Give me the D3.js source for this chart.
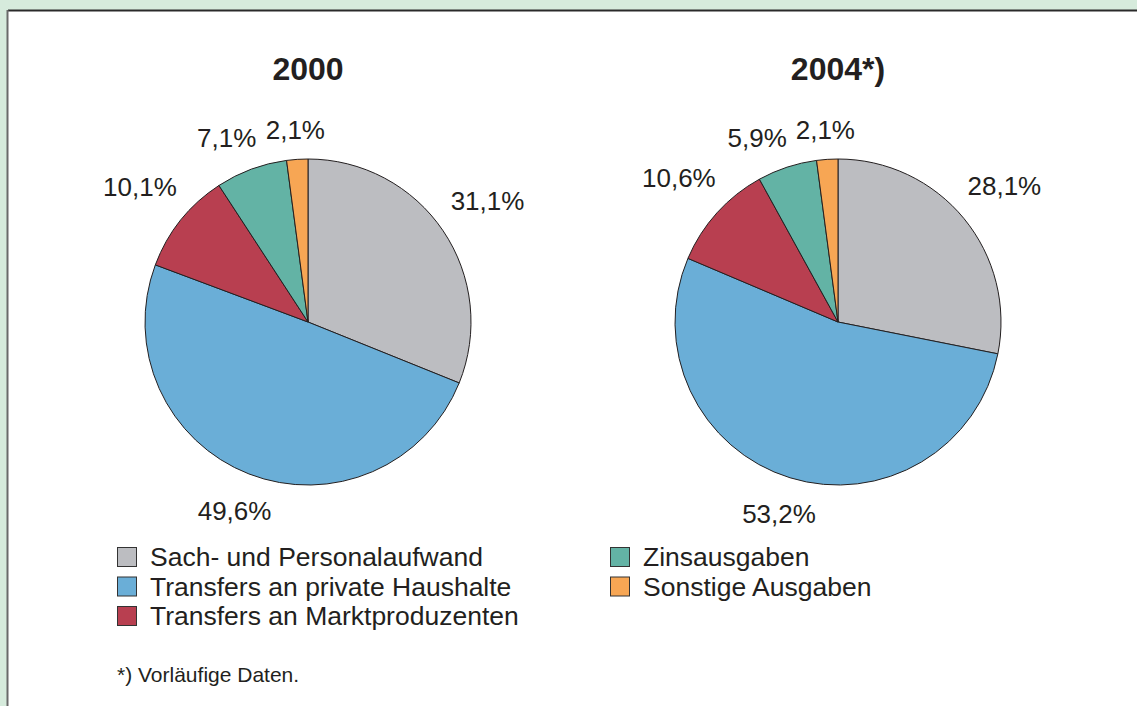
<!DOCTYPE html>
<html>
<head>
<meta charset="utf-8">
<script src="https://cdn.jsdelivr.net/npm/d3@7"></script>
<style>
  body { margin: 0; background: #d6ebdc; }
  svg { display: block; }
  text { font-family: "Liberation Sans", Arial, sans-serif; fill: #231f20; }
</style>
</head>
<body>
<script>
var width = 1137, height = 706;

// data
var categories = ["Sach- und Personalaufwand", "Transfers an private Haushalte",
                  "Transfers an Marktproduzenten", "Zinsausgaben", "Sonstige Ausgaben"];
var colors = ["#bcbdc1", "#6aaed7", "#b83f50", "#63b3a5", "#f7a654"];
var years = ["2000", "2004*)"];
var values2000 = [31.1, 49.6, 10.1, 7.1, 2.1];
var values2004 = [28.1, 53.2, 10.6, 5.9, 2.1];
var footnote = "*) Vorläufige Daten.";

var svg = d3.select("body").append("svg")
    .attr("width", width)
    .attr("height", height);

// panel
svg.append("rect").attr("x", 0).attr("y", 0).attr("width", width).attr("height", height).attr("fill", "#d6ebdc");
svg.append("rect").attr("x", 8).attr("y", 11).attr("width", width).attr("height", height).attr("fill", "#fff");
svg.append("line").attr("x1", 8).attr("y1", 10.5).attr("x2", width).attr("y2", 10.5)
    .attr("stroke", "#2a2a2a").attr("stroke-width", 2);
svg.append("line").attr("x1", 7.5).attr("y1", 10).attr("x2", 7.5).attr("y2", height)
    .attr("stroke", "#6a6a6a").attr("stroke-width", 2);

var radius = 163;
var cx = d3.scaleOrdinal().domain(years).range([308, 838]);
var cy = 322;

var pie = d3.pie().sort(null).value(function (d) { return d; });
var arc = d3.arc().innerRadius(0).outerRadius(radius);
var fmt = function (v) { return d3.format(".1f")(v).replace(".", ",") + "%"; };

var capH = 18, pad = 18;
function labelPos(a, w) {
    var s = Math.sin(a), c = Math.cos(a);
    var r = radius + 0.5 * w * Math.abs(s) + 0.5 * capH * Math.abs(c) + pad;
    return {x: r * s, y: -r * c, w: w, h: capH};
}
function overlap(p, q) {
    return Math.abs(p.x - q.x) < (p.w + q.w) / 2 + 8 && Math.abs(p.y - q.y) < (p.h + q.h) / 2 + 8;
}

[values2000, values2004].forEach(function (vals, k) {
    var g = svg.append("g")
        .attr("transform", "translate(" + cx(years[k]) + "," + cy + ")");

    g.selectAll("path")
        .data(pie(vals))
        .enter().append("path")
        .attr("d", arc)
        .attr("fill", function (d, i) { return colors[i]; })
        .attr("stroke", "#231f20")
        .attr("stroke-width", 1);

    g.append("text")
        .attr("x", 0).attr("y", -242)
        .attr("text-anchor", "middle")
        .attr("font-size", 32)
        .attr("font-weight", "bold")
        .text(years[k]);

    var lbl = g.selectAll("text.lbl")
        .data(pie(vals))
        .enter().append("text")
        .attr("class", "lbl")
        .attr("font-size", 26)
        .attr("text-anchor", "middle")
        .text(function (d) { return fmt(d.data); });

    // first guess at slice middle, then rotate a label back while it hits the next one
    var pos = [], ang = [];
    lbl.each(function (d, i) {
        ang[i] = (d.startAngle + d.endAngle) / 2;
        pos[i] = labelPos(ang[i], this.getComputedTextLength());
    });
    for (var i = pos.length - 2; i >= 0; i--) {
        while (overlap(pos[i], pos[i + 1])) {
            ang[i] -= Math.PI / 360;
            pos[i] = labelPos(ang[i], pos[i].w);
        }
    }
    lbl.attr("x", function (d, i) { return pos[i].x; })
        .attr("y", function (d, i) { return pos[i].y + capH / 2; });
});

// legend
var legendCols = d3.scaleOrdinal().domain([0, 1]).range([117, 610]);
var rowY = d3.scaleLinear().domain([0, 1]).range([566, 595.5]);
var legend = svg.append("g").selectAll("g")
    .data(categories)
    .enter().append("g")
    .attr("transform", function (d, i) {
        var col = i < 3 ? 0 : 1, row = i < 3 ? i : i - 3;
        return "translate(" + legendCols(col) + "," + rowY(row) + ")";
    });
legend.append("rect")
    .attr("x", 0.5).attr("y", -18.5)
    .attr("width", 19).attr("height", 19)
    .attr("fill", function (d, i) { return colors[i]; })
    .attr("stroke", "#333").attr("stroke-width", 1);
legend.append("text")
    .attr("x", 33).attr("y", 0)
    .attr("font-size", 26.5)
    .text(function (d) { return d; });

svg.append("text")
    .attr("x", 117).attr("y", 682)
    .attr("font-size", 21)
    .text(footnote);
</script>
</body>
</html>
